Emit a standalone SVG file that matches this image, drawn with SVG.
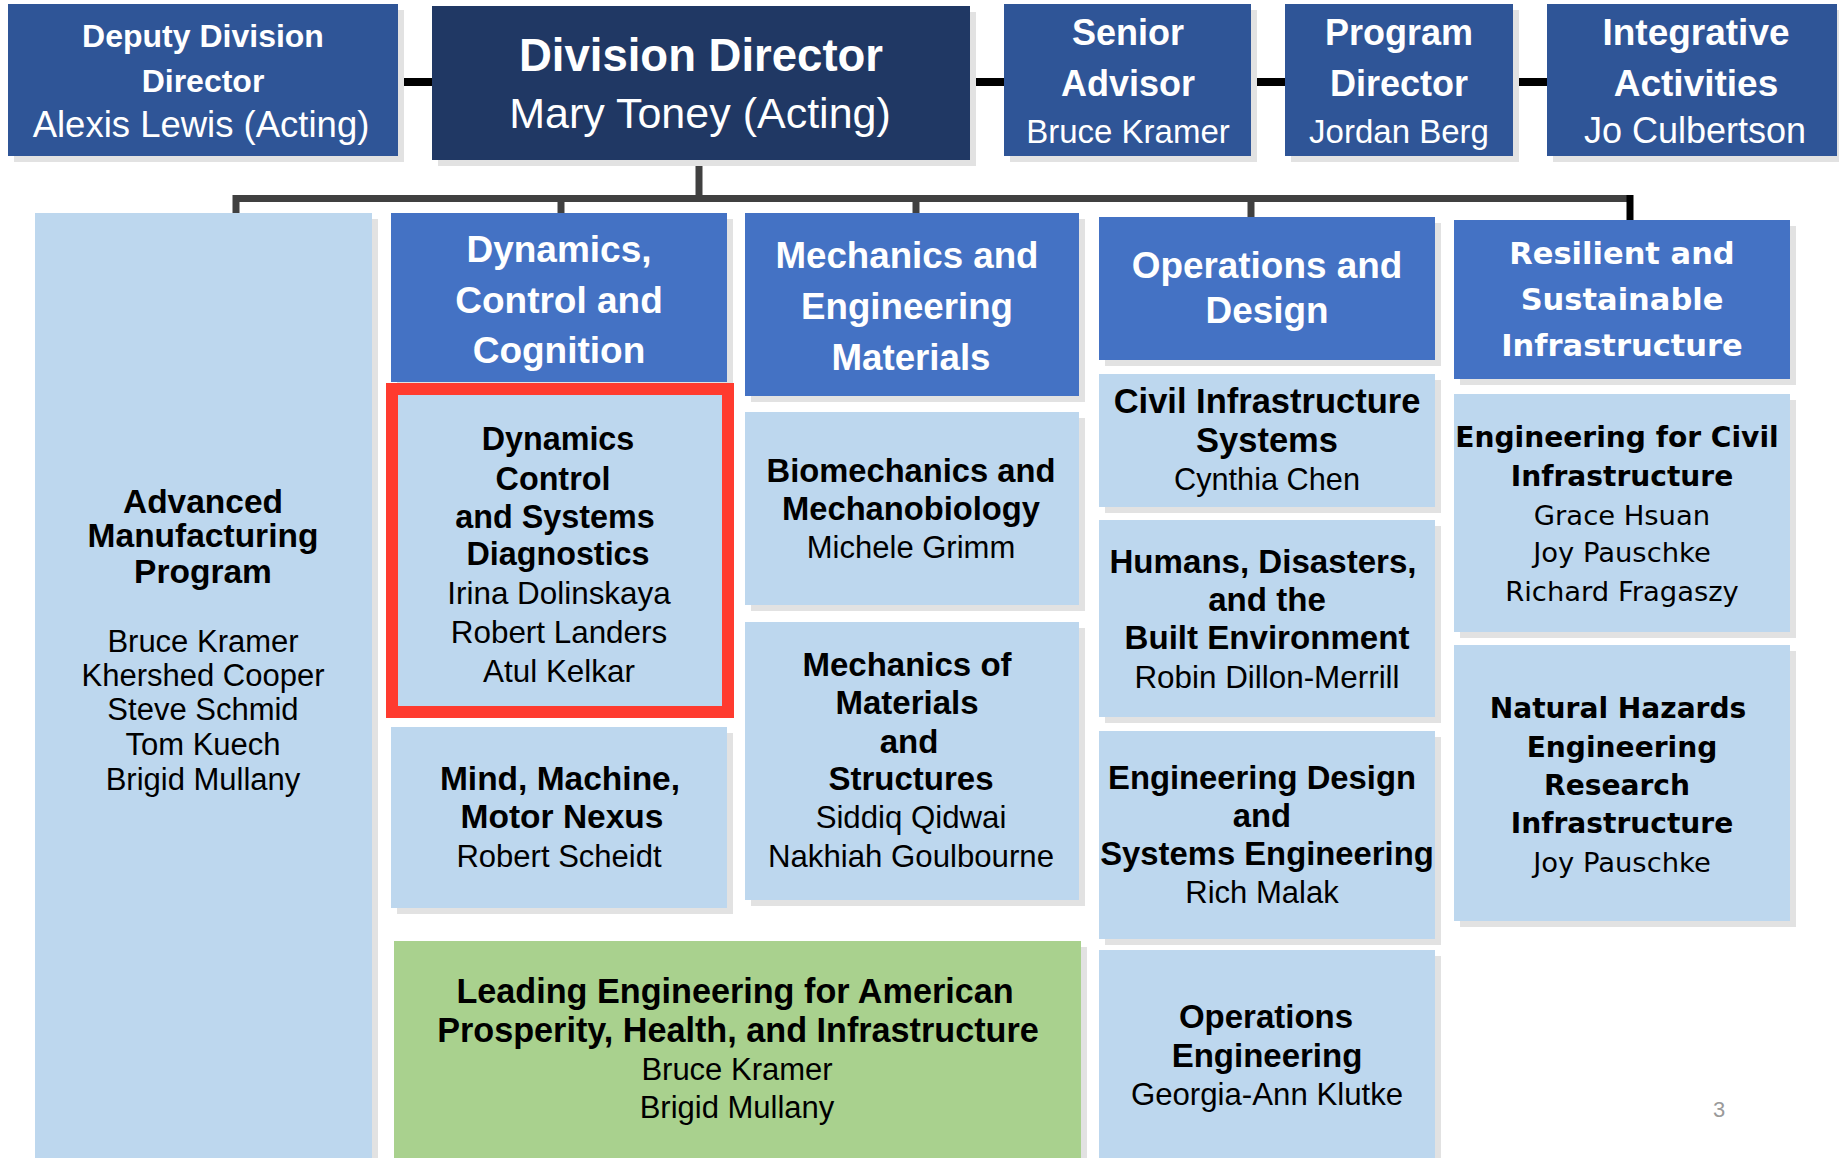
<svg xmlns="http://www.w3.org/2000/svg" width="1839" height="1158" viewBox="0 0 1839 1158">
<style>
text{font-family:"Liberation Sans",Arial,sans-serif;text-anchor:middle}
.b{font-weight:bold}
.w{fill:#fff}
.k{fill:#000}
.v{font-family:"DejaVu Sans",Verdana,sans-serif}
.sh{fill:#e2e2e2}
.top{fill:#2F5597}
.dir{fill:#203864}
.hd{fill:#4472C4}
.lb{fill:#BDD7EE}
.gr{fill:#A9D18E}
.bk{stroke:#000;stroke-width:8;fill:none}
.bus{stroke:#404040;stroke-width:7;fill:none}
</style>
<rect width="1839" height="1158" fill="#fff"/>
<g id="connectors">
<line class="bk" x1="398" y1="82" x2="432" y2="82"/>
<line class="bk" x1="970" y1="82" x2="1004" y2="82"/>
<line class="bk" x1="1251" y1="82" x2="1285" y2="82"/>
<line class="bk" x1="1513" y1="82" x2="1547" y2="82"/>
<line class="bus" x1="699" y1="160" x2="699" y2="198"/>
<path class="bus" d="M236,214 V198.5 H1633"/>
<line class="bus" x1="561" y1="198" x2="561" y2="214"/>
<line class="bus" x1="916" y1="198" x2="916" y2="214"/>
<line class="bus" x1="1251" y1="198" x2="1251" y2="217"/>
<line stroke="#000" stroke-width="7" x1="1630" y1="195" x2="1630" y2="221"/>
</g>
<g id="deputy">
<rect class="sh" x="14" y="10" width="390" height="152"/>
<rect class="top" x="8" y="4" width="390" height="152"/>
<text class="b w" x="203" y="47" font-size="32">Deputy Division</text>
<text class="b w" x="203" y="92" font-size="32">Director</text>
<text class="w" x="201" y="137" font-size="36.5">Alexis Lewis (Acting)</text>
</g>
<g id="director">
<rect class="sh" x="438" y="12" width="538" height="154"/>
<rect class="dir" x="432" y="6" width="538" height="154"/>
<text class="b w" x="701" y="71" font-size="45.5">Division Director</text>
<text class="w" x="700" y="128" font-size="43">Mary Toney (Acting)</text>
</g>
<g id="senior">
<rect class="sh" x="1010" y="10" width="247" height="152"/>
<rect class="top" x="1004" y="4" width="247" height="152"/>
<text class="b w" x="1128" y="45" font-size="36">Senior</text>
<text class="b w" x="1128" y="96" font-size="36">Advisor</text>
<text class="w" x="1128" y="143" font-size="33">Bruce Kramer</text>
</g>
<g id="program">
<rect class="sh" x="1291" y="10" width="228" height="152"/>
<rect class="top" x="1285" y="4" width="228" height="152"/>
<text class="b w" x="1399" y="45" font-size="36">Program</text>
<text class="b w" x="1399" y="96" font-size="36">Director</text>
<text class="w" x="1399" y="143" font-size="33">Jordan Berg</text>
</g>
<g id="integrative">
<rect class="sh" x="1553" y="10" width="290" height="152"/>
<rect class="top" x="1547" y="4" width="290" height="152"/>
<text class="b w" x="1696" y="45" font-size="37">Integrative</text>
<text class="b w" x="1696" y="96" font-size="37">Activities</text>
<text class="w" x="1695" y="143" font-size="36">Jo Culbertson</text>
</g>
<g id="amp">
<rect class="sh" x="41" y="219" width="337" height="945"/>
<rect class="lb" x="35" y="213" width="337" height="945"/>
<text class="b k" x="203" y="513" font-size="33.5">Advanced</text>
<text class="b k" x="203" y="547" font-size="33.5">Manufacturing</text>
<text class="b k" x="203" y="583" font-size="33.5">Program</text>
<text class="k" x="203" y="652" font-size="31">Bruce Kramer</text>
<text class="k" x="203" y="686" font-size="31">Khershed Cooper</text>
<text class="k" x="203" y="720" font-size="31">Steve Schmid</text>
<text class="k" x="203" y="755" font-size="31">Tom Kuech</text>
<text class="k" x="203" y="790" font-size="31">Brigid Mullany</text>
</g>
<g id="dcc">
<rect class="sh" x="397" y="219" width="336" height="169"/>
<rect class="hd" x="391" y="213" width="336" height="169"/>
<text class="b w" x="559" y="262" font-size="37">Dynamics,</text>
<text class="b w" x="559" y="313" font-size="37">Control and</text>
<text class="b w" x="559" y="363" font-size="37">Cognition</text>
</g>
<g id="dcsd">
<rect x="392" y="389" width="336" height="323" fill="#BDD7EE" stroke="#FF3B2F" stroke-width="12"/>
<text class="b k" x="558" y="450" font-size="32.3">Dynamics</text>
<text class="b k" x="553" y="490" font-size="32.3">Control</text>
<text class="b k" x="555" y="528" font-size="32.3">and Systems</text>
<text class="b k" x="558" y="565" font-size="32.3">Diagnostics</text>
<text class="k" x="559" y="604" font-size="31.4">Irina Dolinskaya</text>
<text class="k" x="559" y="643" font-size="31.4">Robert Landers</text>
<text class="k" x="559" y="682" font-size="31.4">Atul Kelkar</text>
</g>
<g id="mmmn">
<rect class="sh" x="397" y="733" width="336" height="181"/>
<rect class="lb" x="391" y="727" width="336" height="181"/>
<text class="b k" x="560" y="790" font-size="33.5">Mind, Machine,</text>
<text class="b k" x="562" y="828" font-size="33.5">Motor Nexus</text>
<text class="k" x="559" y="867" font-size="31">Robert Scheidt</text>
</g>
<g id="leap">
<rect class="sh" x="400" y="947" width="687" height="217"/>
<rect class="gr" x="394" y="941" width="687" height="217"/>
<text class="b k" x="735" y="1003" font-size="34.2">Leading Engineering for American</text>
<text class="b k" x="738" y="1042" font-size="34.2">Prosperity, Health, and Infrastructure</text>
<text class="k" x="737" y="1080" font-size="31">Bruce Kramer</text>
<text class="k" x="737" y="1118" font-size="31">Brigid Mullany</text>
</g>
<g id="mem">
<rect class="sh" x="751" y="219" width="334" height="183"/>
<rect class="hd" x="745" y="213" width="334" height="183"/>
<text class="b w" x="907" y="268" font-size="36.7">Mechanics and</text>
<text class="b w" x="907" y="319" font-size="36.7">Engineering</text>
<text class="b w" x="911" y="370" font-size="36.7">Materials</text>
</g>
<g id="biomech">
<rect class="sh" x="751" y="418" width="334" height="193"/>
<rect class="lb" x="745" y="412" width="334" height="193"/>
<text class="b k" x="911" y="482" font-size="32.7">Biomechanics and</text>
<text class="b k" x="911" y="520" font-size="32.7">Mechanobiology</text>
<text class="k" x="911" y="558" font-size="31">Michele Grimm</text>
</g>
<g id="moms">
<rect class="sh" x="751" y="628" width="334" height="278"/>
<rect class="lb" x="745" y="622" width="334" height="278"/>
<text class="b k" x="907" y="676" font-size="33">Mechanics of</text>
<text class="b k" x="907" y="714" font-size="33">Materials</text>
<text class="b k" x="909" y="753" font-size="33">and</text>
<text class="b k" x="911" y="790" font-size="33">Structures</text>
<text class="k" x="911" y="828" font-size="31.2">Siddiq Qidwai</text>
<text class="k" x="911" y="867" font-size="31.2">Nakhiah Goulbourne</text>
</g>
<g id="oad">
<rect class="sh" x="1105" y="223" width="336" height="143"/>
<rect class="hd" x="1099" y="217" width="336" height="143"/>
<text class="b w" x="1267" y="278" font-size="36.9">Operations and</text>
<text class="b w" x="1267" y="323" font-size="36.9">Design</text>
</g>
<g id="cis">
<rect class="sh" x="1105" y="380" width="336" height="133"/>
<rect class="lb" x="1099" y="374" width="336" height="133"/>
<text class="b k" x="1267" y="413" font-size="34.5">Civil Infrastructure</text>
<text class="b k" x="1267" y="452" font-size="34.5">Systems</text>
<text class="k" x="1267" y="490" font-size="30.7">Cynthia Chen</text>
</g>
<g id="hdbe">
<rect class="sh" x="1105" y="526" width="336" height="197"/>
<rect class="lb" x="1099" y="520" width="336" height="197"/>
<text class="b k" x="1263" y="573" font-size="33.1">Humans, Disasters,</text>
<text class="b k" x="1267" y="611" font-size="33.1">and the</text>
<text class="b k" x="1267" y="649" font-size="33.1">Built Environment</text>
<text class="k" x="1267" y="688" font-size="31.4">Robin Dillon-Merrill</text>
</g>
<g id="edse">
<rect class="sh" x="1105" y="737" width="336" height="208"/>
<rect class="lb" x="1099" y="731" width="336" height="208"/>
<text class="b k" x="1262" y="789" font-size="32.8">Engineering Design</text>
<text class="b k" x="1262" y="827" font-size="32.8">and</text>
<text class="b k" x="1267" y="865" font-size="32.8">Systems Engineering</text>
<text class="k" x="1262" y="903" font-size="31">Rich Malak</text>
</g>
<g id="oe">
<rect class="sh" x="1105" y="956" width="336" height="208"/>
<rect class="lb" x="1099" y="950" width="336" height="208"/>
<text class="b k" x="1266" y="1028" font-size="33">Operations</text>
<text class="b k" x="1267" y="1067" font-size="33">Engineering</text>
<text class="k" x="1267" y="1105" font-size="31.2">Georgia-Ann Klutke</text>
</g>
<g id="rsi">
<rect class="sh" x="1460" y="226" width="336" height="159"/>
<rect class="hd" x="1454" y="220" width="336" height="159"/>
<text class="b w v" x="1622" y="264" font-size="30.5">Resilient and</text>
<text class="b w v" x="1622" y="310" font-size="30.5">Sustainable</text>
<text class="b w v" x="1622" y="356" font-size="30.5">Infrastructure</text>
</g>
<g id="eci">
<rect class="sh" x="1460" y="400" width="336" height="238"/>
<rect class="lb" x="1454" y="394" width="336" height="238"/>
<text class="b k v" x="1617" y="447" font-size="28.1">Engineering for Civil</text>
<text class="b k v" x="1622" y="486" font-size="28.1">Infrastructure</text>
<text class="k v" x="1622" y="525" font-size="27.4">Grace Hsuan</text>
<text class="k v" x="1622" y="562" font-size="27.4">Joy Pauschke</text>
<text class="k v" x="1622" y="601" font-size="27.4">Richard Fragaszy</text>
</g>
<g id="nheri">
<rect class="sh" x="1460" y="651" width="336" height="276"/>
<rect class="lb" x="1454" y="645" width="336" height="276"/>
<text class="b k v" x="1618" y="718" font-size="28.1">Natural Hazards</text>
<text class="b k v" x="1622" y="757" font-size="28.1">Engineering</text>
<text class="b k v" x="1617" y="795" font-size="28.1">Research</text>
<text class="b k v" x="1622" y="833" font-size="28.1">Infrastructure</text>
<text class="k v" x="1622" y="872" font-size="27.4">Joy Pauschke</text>
</g>
<text x="1719" y="1117" font-size="22" fill="#9a9a9a">3</text>
</svg>
